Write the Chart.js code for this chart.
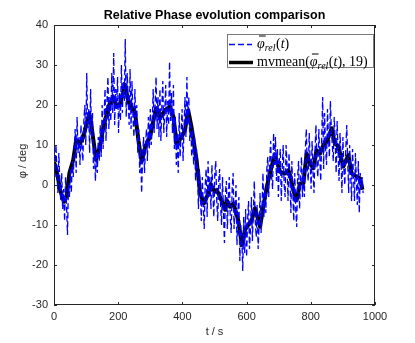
<!DOCTYPE html>
<html>
<head>
<meta charset="utf-8">
<script src="https://cdn.jsdelivr.net/npm/chart.js@4.4.0/dist/chart.umd.min.js"></script>
<style>
  html, body { margin: 0; padding: 0; background: #fff; }
  #wrap { width: 415px; height: 343px; position: relative; }
</style>
</head>
<body>
<div id="wrap"><canvas id="phaseChart" width="415" height="343"></canvas></div>
<script>
// raw relative phase, one sample every 3 s starting at t = 0
const blueStart = 0;
const blueStep = 3;
const blueValues = [
  7, 2, 10, 4, -2, 8, 1, -4, 3, -6,
  -1, -9, 2, -5, -12.5, 0, -3, 4, -2, 6,
  2, 9, 14, 3, 17, 8, 12, 5, 15, 9,
  6, 16, 20, 10, 28, 14, 19, 8, 24, 12,
  18, 4, 10, 1, 8, 3, 12, 6, 15, 7,
  20, 9, 17, 24, 11, 21, 27, 14, 22, 16,
  28, 18, 33, 15, 24, 19, 27, 13, 23, 16,
  30, 18, 26, 21, 36.5, 17, 28, 22, 15, 29,
  14, 26, 17, 12, 24, 15, 20, 8, 14, 3,
  9, -2, 7, 12, 3, 10, 14, 6, 17, 9,
  19, 10, 15, 24, 13, 20, 27, 14, 22, 12,
  24, 11, 20, 26, 13, 18, 25, 12, 21, 15,
  30.8, 16, 23, 13, 25, 9, 17, 5, 13, 3,
  18, 7, 13, 19, 6, 14, 22, 12, 27, 15,
  22, 11, 16, 7, 14, 5, 12, 1, 9, 3,
  -6, 4, -2, -9, 2, -5, -11, 0, 4, -8,
  6, -3, 2, -6, 5, -2, -8, 3, 6, -4,
  -9, 1, 4, -5, -10, 2, -7, -14.5, -2, 1,
  -11, -3, 2, -8, -12, -1, 3, -11, -5, 0,
  -15, -6, -3, -19, -10, -13, -21.5, -8, -17, -6,
  -18, -9, -4, -16, -11, -3, -14, -7, 1, -9,
  -13, -5, -16, -10, -2, -12, -6, 3, -8, -1,
  -7, 4, 7, -3, 6, 11, 2, -1, 13, 5,
  12, 1, 9, -3, 6, 9, -4, 4, 10, 0,
  -3, 10, 5, -4, 8, 2, -7, 6, -2, -9,
  3, -6, -10.5, 2, 6, -6, 1, 7, -3, 4,
  -3, 9, 14, 4, 1, 13, 6, -1, 11, 3,
  -2, 8, 15, 5, 2, 14, 7, 1, 12, 22,
  4, 18, 9, 5, 19, 12, 7, 21, 14, 10,
  6, 17, 11, 3, 16, 8, 1, 13, 7, -2,
  12, 4, 0, 9, 15, 6, -2, 10, 3, -4,
  9, 2, -4, 8, 1, -5, 6, -7, 3, -1,
  2, -2
];

// moving mean (window 19)
const meanTimes = [
  0, 8, 19, 31, 39, 48, 60, 69, 81, 91,
  110, 117, 131, 143, 154, 172, 185, 195, 206, 221,
  232, 237, 252, 263, 273, 284, 299, 318, 330, 346,
  361, 372, 382, 398, 408, 418, 429, 444, 455, 467,
  481, 488, 494, 501, 507, 517, 533, 538, 548, 559,
  574, 585, 595, 605, 616, 626, 642, 652, 663, 678,
  688, 704, 720, 730, 737, 745, 756, 766, 777, 787,
  797, 808, 818, 829, 839, 850, 865, 875, 886, 901,
  917, 927, 943, 953, 961
];
const meanValues = [
  5.8, 3.7, -1.2, -4.2, -2.9, 3, 6.3, 11.2, 10.4, 12,
  17.9, 14.6, 6.3, 9.6, 14.6, 20, 22, 19.6, 20.4, 25,
  20.8, 20, 18.3, 11.2, 5.8, 9.6, 12, 19.2, 16.7, 18.7,
  19.6, 17.1, 10.4, 12, 13.7, 18.7, 14.2, 6.3, -2, -4.6,
  -2, 0.2, -0.8, -1.7, -1.2, -2.9, -6.2, -3.8, -5.4, -4.6,
  -8.8, -15, -11.2, -10, -8.8, -5.8, -10.4, -5.4, -0.4, 4.6,
  7.5, 3.3, 2.9, 3.7, 2.1, -1.2, -3.8, 0.4, 0.4, 7.9,
  5.4, 4.2, 8.7, 7.9, 10, 10.8, 14.2, 10.4, 9.6, 4.6,
  7.5, 2.9, 2.1, 1.7, -1.2
];

const xTicks = [0, 200, 400, 600, 800, 1000];
const yTicks = [-30, -20, -10, 0, 10, 20, 30, 40];

const axisColor = "#262626";
const sansFont = "'Liberation Sans', Arial, sans-serif";
const serifFont = "'Liberation Serif', 'Times New Roman', serif";

// draws  phi-bar_rel(t)  and returns the x where it ends
function drawPhiRel(ctx, x, base) {
  ctx.font = "italic 14px " + serifFont;
  const phiW = ctx.measureText("\u03C6").width;
  ctx.fillText("\u03C6", x, base);
  ctx.fillRect(x + 2, base - 12.5, phiW - 1, 1); // the bar
  x += phiW;
  ctx.font = "italic 10px " + serifFont;
  ctx.fillText("rel", x, base + 3);
  x += ctx.measureText("rel").width + 0.5;
  ctx.font = "14px " + serifFont;
  ctx.fillText("(", x, base);
  x += ctx.measureText("(").width;
  ctx.font = "italic 14px " + serifFont;
  ctx.fillText("t", x, base);
  x += ctx.measureText("t").width;
  ctx.font = "14px " + serifFont;
  ctx.fillText(")", x, base);
  x += ctx.measureText(")").width;
  return x;
}

const matlabFrame = {
  id: "matlabFrame",
  afterDatasetsDraw(chart) {
    const { ctx, chartArea: a, scales } = chart;
    ctx.save();
    ctx.strokeStyle = axisColor;
    ctx.lineWidth = 1;
    ctx.strokeRect(a.left + 0.5, a.top + 0.5, a.right - a.left - 1, a.bottom - a.top - 1);
    ctx.beginPath();
    xTicks.forEach(function (t) {
      const px = Math.round(scales.x.getPixelForValue(t)) + 0.5;
      ctx.moveTo(px, a.bottom); ctx.lineTo(px, a.bottom - 3);
      ctx.moveTo(px, a.top); ctx.lineTo(px, a.top + 3);
    });
    yTicks.forEach(function (v) {
      const py = Math.round(scales.y.getPixelForValue(v)) + 0.5;
      ctx.moveTo(a.left, py); ctx.lineTo(a.left + 3, py);
      ctx.moveTo(a.right, py); ctx.lineTo(a.right - 3, py);
    });
    ctx.stroke();

    // title and axis labels
    ctx.fillStyle = "#000";
    ctx.textAlign = "center";
    ctx.textBaseline = "middle";
    ctx.font = "bold 12.5px " + sansFont;
    ctx.fillText("Relative Phase evolution comparison", (a.left + a.right) / 2, 16);
    ctx.fillStyle = axisColor;
    ctx.font = "11px " + sansFont;
    ctx.fillText("t / s", (a.left + a.right) / 2, 332);
    ctx.save();
    ctx.translate(23, (a.top + a.bottom) / 2 - 4);
    ctx.rotate(-Math.PI / 2);
    ctx.fillText("\u03C6 / deg", 0, 0);
    ctx.restore();

    // legend
    const lx = 227, ly = 34, lw = 146, lh = 33;
    ctx.fillStyle = "#fff";
    ctx.fillRect(lx, ly, lw, lh);
    ctx.strokeStyle = "#7a7a7a";
    ctx.strokeRect(lx + 0.5, ly + 0.5, lw, lh);
    ctx.strokeStyle = "#0000ff";
    ctx.lineWidth = 1.3;
    ctx.setLineDash([6, 3]);
    ctx.beginPath();
    ctx.moveTo(229, 44.5); ctx.lineTo(252, 44.5);
    ctx.stroke();
    ctx.setLineDash([]);
    ctx.strokeStyle = "#000";
    ctx.lineWidth = 3.5;
    ctx.beginPath();
    ctx.moveTo(229, 62.5); ctx.lineTo(253, 62.5);
    ctx.stroke();
    ctx.fillStyle = "#000";
    ctx.textAlign = "left";
    ctx.textBaseline = "alphabetic";
    drawPhiRel(ctx, 257, 48);
    ctx.font = "14px " + serifFont;
    let x = 257;
    ctx.fillText("mvmean(", x, 66);
    x += ctx.measureText("mvmean(").width;
    x = drawPhiRel(ctx, x, 66);
    ctx.font = "14px " + serifFont;
    ctx.fillText(", 19)", x, 66);
    ctx.restore();
  }
};

new Chart(document.getElementById("phaseChart"), {
  type: "line",
  data: {
    datasets: [
      {
        data: blueValues.map((v, i) => ({ x: blueStart + i * blueStep, y: v })),
        borderColor: "#0000ff",
        borderWidth: 1.3,
        borderDash: [6, 3],
        pointRadius: 0,
        tension: 0,
      },
      {
        data: meanTimes.map((t, i) => ({ x: t, y: meanValues[i] })),
        borderColor: "#000",
        borderWidth: 4,
        pointRadius: 0,
        tension: 0,
        borderJoinStyle: "round",
      },
    ],
  },
  plugins: [matlabFrame],
  options: {
    responsive: false,
    animation: false,
    devicePixelRatio: 1,
    layout: { padding: { top: 25, right: 40, left: 0, bottom: 0 } },
    plugins: { legend: { display: false }, title: { display: false }, tooltip: { enabled: false } },
    scales: {
      x: {
        type: "linear",
        min: 0,
        max: 1000,
        afterBuildTicks: (s) => { s.ticks = xTicks.map((v) => ({ value: v })); },
        afterFit: (s) => { s.height = 38; },
        grid: { display: false, drawTicks: false },
        border: { display: false },
        ticks: { color: axisColor, font: { family: sansFont, size: 11 }, padding: 5, maxRotation: 0, callback: (v) => String(v) },
      },
      y: {
        min: -30,
        max: 40,
        afterBuildTicks: (s) => { s.ticks = yTicks.map((v) => ({ value: v })); },
        afterFit: (s) => { s.width = 54; },
        grid: { display: false, drawTicks: false },
        border: { display: false },
        ticks: { color: axisColor, font: { family: sansFont, size: 11 }, padding: 6, callback: (v) => String(v) },
      },
    },
  },
});
</script>
</body>
</html>
